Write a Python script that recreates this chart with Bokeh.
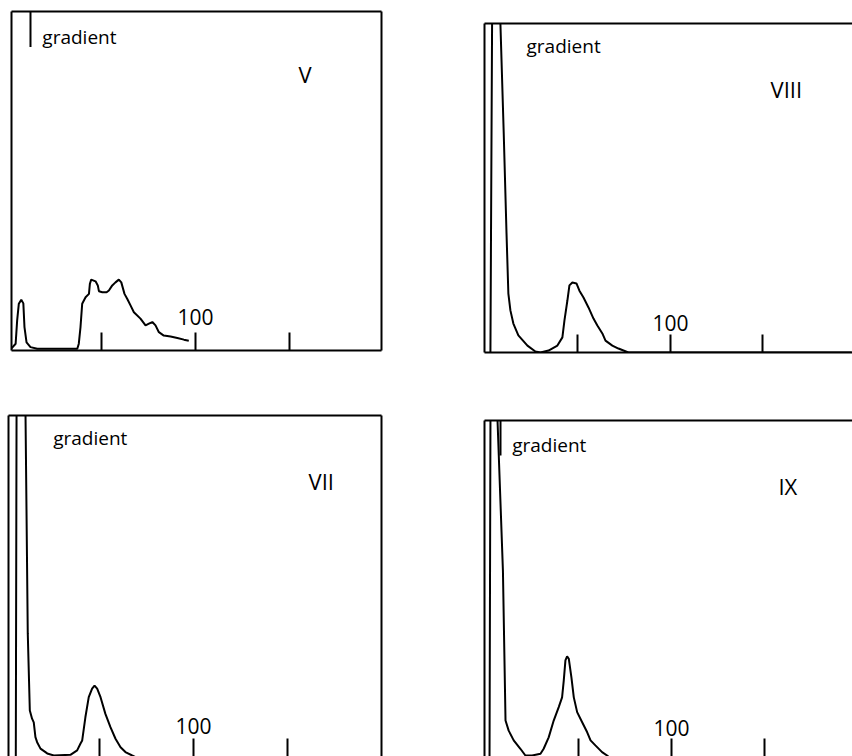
from bokeh.plotting import figure
from bokeh.layouts import column, row
from bokeh.models import Range1d, LinearAxis, FixedTicker, Grid
from bokeh.core.properties import value
from bokeh.embed import file_html
from bokeh.resources import INLINE

# ---------------- data ----------------
tick_values = [50, 100, 150]
tick_label_value = [100]
tick_label_text = ["100"]
gradient_text = ["gradient"]

# Panel V
v_x = [2.1, 4.3, 5.1, 6.0, 7.3, 8.4, 9.0, 10.1, 12.2, 15.8, 37.1, 37.9, 38.8, 39.7, 41.5,
       43.3, 43.8, 44.5, 46.8, 48.0, 48.6, 50.4, 52.7, 53.9, 55.7, 57.4, 59.2, 60.5, 62.2,
       63.7, 65.4, 67.2, 70.7, 73.4, 75.2, 77.0, 78.7, 80.5, 83.1, 86.7, 90.3, 93.8, 96.4]
v_y = [0.006, 0.020, 0.088, 0.138, 0.150, 0.139, 0.069, 0.024, 0.010, 0.005, 0.005, 0.020,
       0.069, 0.138, 0.157, 0.167, 0.197, 0.209, 0.204, 0.192, 0.175, 0.172, 0.172, 0.177,
       0.192, 0.201, 0.209, 0.201, 0.167, 0.152, 0.133, 0.113, 0.094, 0.074, 0.079, 0.084,
       0.074, 0.054, 0.044, 0.041, 0.037, 0.032, 0.029]

# Panel VIII
viii_x = [2.7, 3.6, 5.5, 8.1, 9.9, 11.4, 12.4, 13.5, 15.1, 17.8, 22.7, 27.0, 29.7, 34.1,
          38.9, 41.6, 42.7, 44.3, 45.4, 47.0, 49.2, 50.8, 53.0, 55.7, 58.4, 60.5, 63.2,
          64.9, 68.6, 71.9, 77.3, 84.9, 100, 198]
viii_y = [0.0, 1.0, 1.4, 1.0, 0.665, 0.362, 0.179, 0.128, 0.088, 0.052, 0.021, 0.003, 0.0,
          0.006, 0.021, 0.046, 0.097, 0.158, 0.204, 0.213, 0.210, 0.188, 0.167, 0.137,
          0.103, 0.082, 0.058, 0.036, 0.021, 0.012, 0.0, 0.0, 0.0, 0.0]

# Panel VII
vii_x = [5.0, 5.4, 7.5, 10.2, 11.4, 12.5, 13.7, 14.6, 15.5, 16.4, 18.2, 21.8, 25.3, 34.2,
         37.8, 39.6, 40.5, 42.2, 44.0, 45.8, 47.1, 48.5, 50.3, 52.9, 55.6, 58.3, 61.0,
         63.6, 67.2, 72.0]
vii_y = [-0.01, 1.0, 1.4, 1.0, 0.361, 0.135, 0.111, 0.100, 0.057, 0.042, 0.023, 0.009,
         0.003, 0.005, 0.018, 0.038, 0.047, 0.115, 0.174, 0.199, 0.208, 0.199, 0.174,
         0.125, 0.086, 0.052, 0.027, 0.013, 0.003, -0.01]

# Panel IX
ix_x = [2.2, 2.7, 4.5, 6.5, 9.4, 10.8, 12.5, 15.2, 18.8, 21.5, 25.1, 29.6, 31.3, 34.0,
        36.7, 39.4, 41.2, 42.1, 43.0, 43.9, 44.8, 46.2, 47.5, 49.3, 52.0, 54.7, 56.5,
        59.1, 62.7, 65.4, 68.0]
ix_y = [-0.01, 1.0, 1.4, 1.0, 0.554, 0.107, 0.077, 0.048, 0.023, 0.003, 0.003, 0.008,
        0.023, 0.057, 0.107, 0.147, 0.176, 0.226, 0.286, 0.298, 0.291, 0.236, 0.176,
        0.132, 0.102, 0.072, 0.048, 0.033, 0.013, 0.003, -0.01]

# gradient start markers (x position, lower end)
v_marker = ([12.2], [0.895])
ix_marker = ([8.1], [0.896])

FONT = value("Open Sans")


def make_panel(width, height, borders, xr, xs, ys, name, name_pos, grad_pos, label_y,
               right_line=True, bottom_line=True, marker=None):
    left, right, top, bottom = borders
    p = figure(width=width, height=height, output_backend="svg", toolbar_location=None,
               x_axis_location=None, y_axis_location=None,
               x_range=Range1d(*xr), y_range=Range1d(0, 1),
               min_border=0, min_border_left=left, min_border_right=right,
               min_border_top=top, min_border_bottom=bottom,
               background_fill_color="white", border_fill_color="white")
    p.outline_line_color = None
    p.center = [r for r in p.center if not isinstance(r, Grid)]

    def border_axis(loc, ticks, show_line=True):
        ax = LinearAxis(ticker=FixedTicker(ticks=ticks))
        ax.major_tick_out = 0
        ax.minor_tick_out = 0
        ax.minor_tick_in = 0
        ax.major_tick_in = 18
        ax.major_tick_line_width = 2
        ax.major_tick_line_color = "black"
        ax.major_label_text_color = None
        ax.major_label_standoff = 0
        ax.axis_line_width = 2
        ax.axis_line_color = "black" if show_line else None
        p.add_layout(ax, loc)
        return ax

    border_axis("left", [])
    border_axis("above", [])
    if right_line:
        border_axis("right", [])
    border_axis("below", tick_values, show_line=bottom_line)

    p.line(xs, ys, line_color="black", line_width=2)
    if marker is not None:
        mx, my = marker
        p.segment(x0=mx, y0=[1.0] * len(mx), x1=mx, y1=my, line_color="black", line_width=2)

    p.text(x=[grad_pos[0]], y=[grad_pos[1]], text=gradient_text, text_font=FONT,
           text_font_size="19px", text_baseline="alphabetic", text_align="left",
           text_color="black")
    p.text(x=[name_pos[0]], y=[name_pos[1]], text=[name], text_font=FONT,
           text_font_size="22px", text_baseline="alphabetic", text_align="left",
           text_color="black")
    p.text(x=tick_label_value, y=[label_y], text=tick_label_text, text_font=FONT,
           text_font_size="21px", text_baseline="alphabetic", text_align="center",
           text_color="black")
    return p


p1 = make_panel(448, 408, (11, 67, 11, 58), (2.1, 198.9), v_x, v_y, "V",
                (154.8, 0.815), (18.5, 0.926), 0.098, marker=v_marker)
p2 = make_panel(404, 408, (36, 0, 23, 56), (-0.5, 198.4), viii_x, viii_y, "VIII",
                (154.1, 0.800), (22.2, 0.933), 0.091, right_line=False)
p3 = make_panel(448, 348, (8, 67, 7, 0), (1.1, 200.5), vii_x, vii_y, "VII",
                (161.5, 0.808), (25.0, 0.933), 0.090, bottom_line=False)
p4 = make_panel(404, 348, (36, 0, 12, 0), (-0.5, 197.3), ix_x, ix_y, "IX",
                (157.5, 0.805), (14.4, 0.926), 0.086, right_line=False, bottom_line=False,
                marker=ix_marker)

layout = column(
    row(column(p1, width=448, height=408), column(p2, width=404, height=408),
        width=852, height=408),
    row(column(p3, width=448, height=348), column(p4, width=404, height=348),
        width=852, height=348),
    width=852, height=756)

open("out.html", "w").write(file_html(layout, INLINE))
